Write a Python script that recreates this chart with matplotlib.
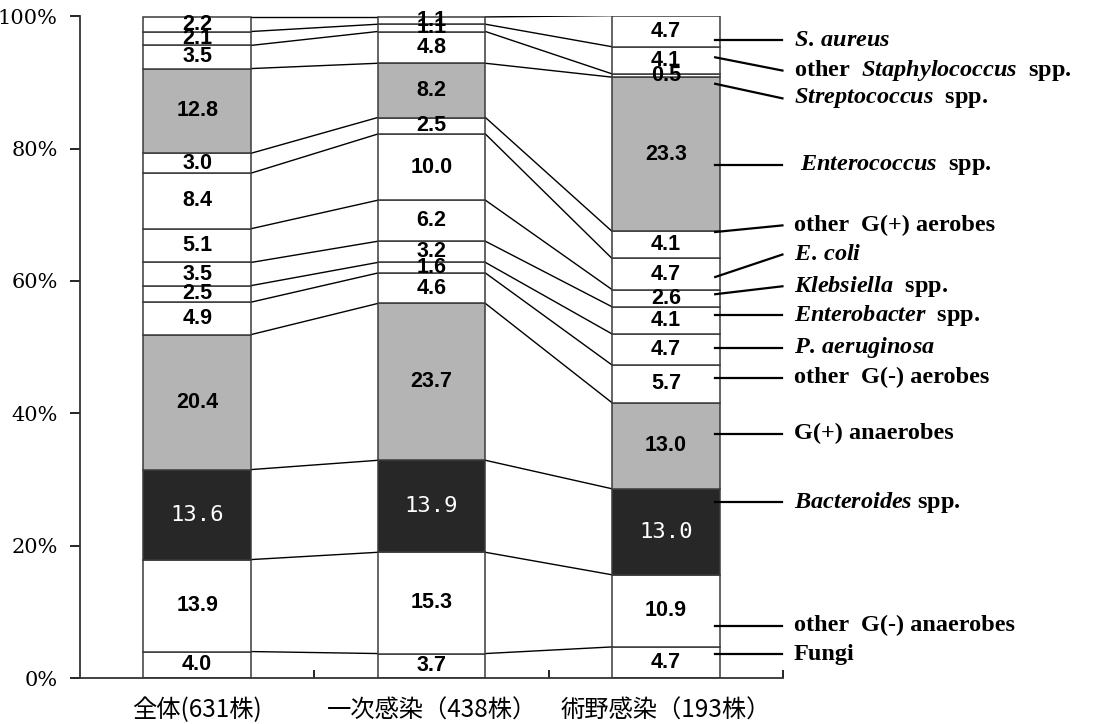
import numpy as np
import matplotlib
matplotlib.use("Agg")
import matplotlib.pyplot as plt

# Isolates by organism group (%), stacked bottom to top
groups = ["全体(631株)", "一次感染（438株）", "術野感染（193株）"]
organisms = [
    "Fungi",
    r"other  G(-) anaerobes",
    r"$\mathit{Bacteroides}$ spp.",
    r"G(+) anaerobes",
    r"other  G(-) aerobes",
    r"$\mathit{P.\,aeruginosa}$",
    r"$\mathit{Enterobacter}$  spp.",
    r"$\mathit{Klebsiella}$  spp.",
    r"$\mathit{E.\,coli}$",
    r"other  G(+) aerobes",
    r" $\mathit{Enterococcus}$  spp.",
    r"$\mathit{Streptococcus}$  spp.",
    r"other  $\mathit{Staphylococcus}$  spp.",
    r"$\mathit{S.\,aureus}$",
]
total = [4.0, 13.9, 13.6, 20.4, 4.9, 2.5, 3.5, 5.1, 8.4, 3.0, 12.8, 3.5, 2.1, 2.2]
primary = [3.7, 15.3, 13.9, 23.7, 4.6, 1.6, 3.2, 6.2, 10.0, 2.5, 8.2, 4.8, 1.1, 1.1]
surgical = [4.7, 10.9, 13.0, 13.0, 5.7, 4.7, 4.1, 2.6, 4.7, 4.1, 23.3, 0.5, 4.1, 4.7]

# segment fills: white, with grey for G(+) anaerobes / Enterococcus, dark for Bacteroides
fills = ["white", "white", "#272727", "#b4b4b4", "white", "white", "white",
         "white", "white", "white", "#b4b4b4", "white", "white", "white"]

# where the right-hand labels sit and where their leaders touch the last bar
label_y = [3.6, 7.9, 26.6, 36.9, 45.4, 49.9, 54.8, 59.2, 64.0, 68.4, 77.5, 87.6, 91.8, 96.4]
anchor_y = [3.6, 7.9, 26.6, 36.9, 45.4, 49.9, 54.8, 58.0, 60.6, 67.4, 77.5, 89.8, 93.8, 96.4]

plt.rcParams["mathtext.fontset"] = "custom"
plt.rcParams["mathtext.rm"] = "Liberation Serif:bold"
plt.rcParams["mathtext.it"] = "Liberation Serif:italic:bold"

data = np.array([total, primary, surgical])
x = np.arange(len(groups))
width = 0.46

fig = plt.figure(figsize=(10.97, 7.24), dpi=100)
ax = fig.add_axes([0.0729, 0.0635, 0.641, 0.914])

bottoms = np.zeros(len(groups))
for k in range(len(organisms)):
    vals = data[:, k]
    ax.bar(x, vals, width, bottom=bottoms, color=fills[k],
           edgecolor="#3a3a3a", linewidth=1.1, zorder=2)
    for i in range(len(groups)):
        yc = bottoms[i] + vals[i] / 2
        if fills[k] == "#272727":
            ax.text(x[i], yc, f"{vals[i]:.1f}", ha="center", va="center",
                    color="white", fontsize=16, family="DejaVu Sans Mono", zorder=4)
        else:
            ax.text(x[i], yc, f"{vals[i]:.1f}", ha="center", va="center",
                    color="black", fontsize=15.5, fontweight="bold",
                    family="Liberation Sans", zorder=4)
    bottoms = bottoms + vals

# lines joining matching segment boundaries between neighbouring bars
tops = np.cumsum(data, axis=1)
for i in range(len(groups) - 1):
    for k in range(len(organisms)):
        ax.plot([x[i] + width / 2, x[i + 1] - width / 2],
                [tops[i, k], tops[i + 1, k]], color="black", lw=1.0, zorder=1)

# right-hand labels with leader lines
for k, name in enumerate(organisms):
    ax.plot([2.21, 2.497], [anchor_y[k], label_y[k]], color="black", lw=1.6,
            clip_on=False, zorder=3)
    ax.text(2.545, label_y[k], name, ha="left", va="center", fontsize=17.5,
            family="Liberation Serif", fontweight="bold", clip_on=False)

ax.set_xlim(-0.5, 2.5)
ax.set_ylim(0, 100)
ax.spines["top"].set_visible(False)
ax.spines["right"].set_visible(False)
for s in ["left", "bottom"]:
    ax.spines[s].set_linewidth(1.3)
    ax.spines[s].set_color("#333333")

ax.set_yticks(np.arange(0, 101, 20))
ax.set_yticklabels([f"{v}%" for v in range(0, 101, 20)],
                   family="DejaVu Serif", fontsize=15)
ax.tick_params(axis="y", direction="out", length=7, width=1.2, pad=9)

ax.set_xticks(x)
ax.set_xticklabels(groups, family=["Noto Sans CJK JP", "DejaVu Sans"], fontsize=17.5)
ax.set_xticks([0.5, 1.5, 2.5], minor=True)
ax.tick_params(axis="x", which="major", length=0, pad=14)
ax.tick_params(axis="x", which="minor", direction="in", length=6, width=1.2)

fig.savefig("out.png", dpi=100, facecolor="white")
